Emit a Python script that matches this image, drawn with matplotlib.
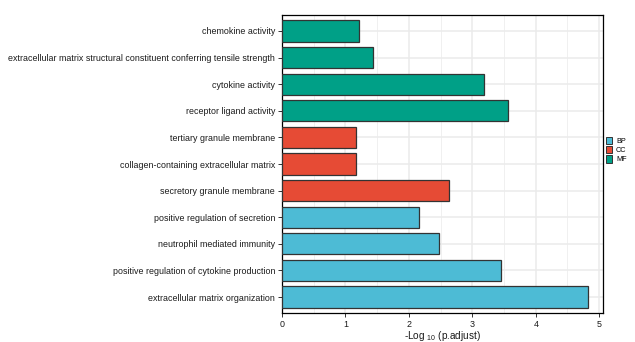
import numpy as np
import matplotlib
matplotlib.use('Agg')
import matplotlib.pyplot as plt
from matplotlib.patches import Patch

plt.rcParams['font.family'] = ['Liberation Sans', 'DejaVu Sans']
plt.rcParams['mathtext.fontset'] = 'custom'
plt.rcParams['mathtext.rm'] = 'Liberation Sans'
plt.rcParams['mathtext.it'] = 'Liberation Sans'

# top to bottom as shown
terms = ['chemokine activity',
         'extracellular matrix structural constituent conferring tensile strength',
         'cytokine activity',
         'receptor ligand activity',
         'tertiary granule membrane',
         'collagen-containing extracellular matrix',
         'secretory granule membrane',
         'positive regulation of secretion',
         'neutrophil mediated immunity',
         'positive regulation of cytokine production',
         'extracellular matrix organization']
neglog_padj = [1.22, 1.43, 3.18, 3.57, 1.17, 1.17, 2.64, 2.16, 2.47, 3.46, 4.83]
ontology = ['MF', 'MF', 'MF', 'MF', 'CC', 'CC', 'CC', 'BP', 'BP', 'BP', 'BP']

onto_cols = {'BP': '#4DBBD5', 'CC': '#E64B35', 'MF': '#00A087'}

fig = plt.figure(figsize=(6.35, 3.42), dpi=100)
ax = fig.add_axes([282/635, 1-313/342, (603-282)/635, (313-15)/342])

ypos = np.arange(len(terms))[::-1]
cols = [onto_cols[o] for o in ontology]
ax.barh(ypos, neglog_padj, height=0.8, color=cols, edgecolor='#333333', linewidth=0.9, zorder=3)

ax.set_yticks(ypos)
ax.set_yticklabels(terms, fontsize=6.4, color='#1a1a1a')
ax.set_ylim(-0.6, len(terms) - 0.4)
ax.set_xlim(0, 5.06)
ax.set_xticks(np.arange(0, 6))
ax.set_xticks(np.arange(0.5, 5.5, 1), minor=True)
ax.tick_params(axis='x', which='major', labelsize=6.4, length=3, width=0.7, color='#333333',
               labelcolor='#1a1a1a', pad=2)
ax.tick_params(axis='x', which='minor', length=0)
ax.tick_params(axis='y', length=3, width=0.7, color='#333333', pad=2)
ax.grid(True, which='major', color='#EBEBEB', linewidth=1.1, zorder=0)
ax.grid(True, which='minor', axis='x', color='#F0F0F0', linewidth=0.7, zorder=0)
ax.set_axisbelow(True)
for s in ax.spines.values():
    s.set_linewidth(0.9)
    s.set_color('black')
ax.set_xlabel(r'-Log $_{10}$ (p.adjust)', fontsize=7.2, labelpad=0, color='#1a1a1a')

handles = [Patch(facecolor=onto_cols[k], edgecolor='#333333', linewidth=0.7, label=k) for k in ['BP', 'CC', 'MF']]
fig.legend(handles=handles, loc='center left', bbox_to_anchor=(603/635, 1-150/342), frameon=False,
           fontsize=5.2, handlelength=0.9, handleheight=1.2, handletextpad=0.5, labelspacing=0.15,
           borderaxespad=0.2, borderpad=0.2)

fig.savefig('out.png', dpi=100)
